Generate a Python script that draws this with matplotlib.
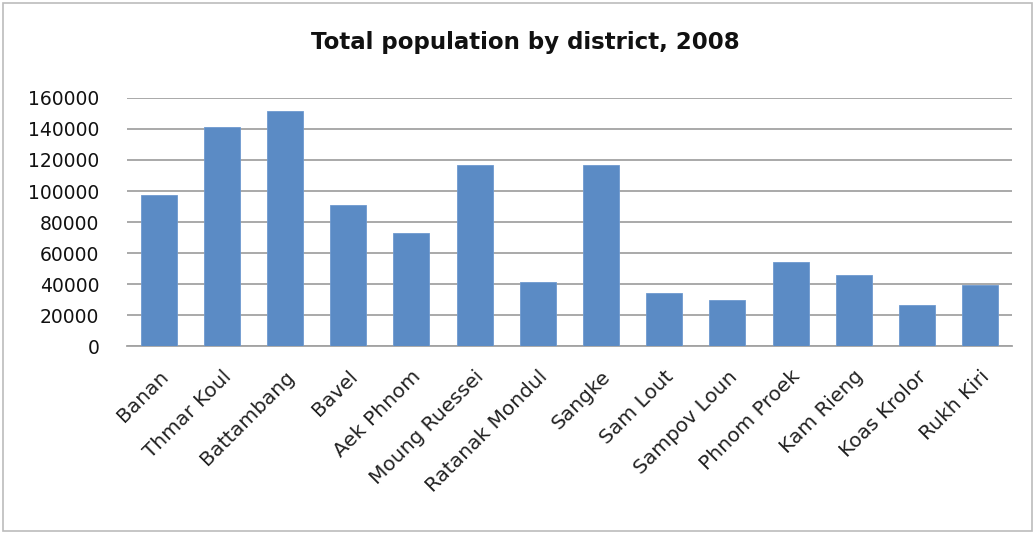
import matplotlib.pyplot as plt
from matplotlib.patches import Rectangle
import numpy as np

districts = ["Banan", "Thmar Koul", "Battambang", "Bavel", "Aek Phnom",
             "Moung Ruessei", "Ratanak Mondul", "Sangke", "Sam Lout",
             "Sampov Loun", "Phnom Proek", "Kam Rieng", "Koas Krolor", "Rukh Kiri"]
population = [97300, 141200, 151800, 90800, 72900,
              116800, 41500, 116800, 34000,
              30000, 54500, 45600, 26200, 39600]
yticks = [0, 20000, 40000, 60000, 80000, 100000, 120000, 140000, 160000]

plt.rcParams["font.family"] = ["DejaVu Sans"]

fig = plt.figure(figsize=(10.36, 5.34), dpi=100)
fig.patch.set_facecolor("white")
# light border round the whole chart, like the Excel chart area
fig.patches.append(Rectangle((0.003, 0.005), 0.993, 0.99, transform=fig.transFigure,
                             fill=False, edgecolor="#bcbcbc", linewidth=1.2))

ax = fig.add_axes([0.1226, 0.352, 0.854, 0.4645])
x = np.arange(len(districts))
ax.bar(x, population, width=0.57, color="#5b8bc5", edgecolor="#6e9ad0",
       linewidth=0.6, zorder=3)

ax.set_ylim(0, 160000)
ax.set_xlim(-0.5, len(districts) - 0.5)
ax.set_yticks(yticks)
ax.set_yticklabels([str(v) for v in yticks], fontsize=13.5, color="#111111")
ax.yaxis.grid(True, color="#a3a3a3", linewidth=1.3, zorder=0)
ax.tick_params(axis="y", length=0, pad=20)
ax.tick_params(axis="x", length=0, pad=15)
ax.set_xticks(x)
ax.set_xticklabels(districts, rotation=45, ha="right", rotation_mode="anchor",
                   fontsize=14.5, color="#222222")

for side in ["top", "right", "left"]:
    ax.spines[side].set_visible(False)
ax.spines["bottom"].set_color("#a3a3a3")
ax.spines["bottom"].set_linewidth(1.3)

fig.text(0.507, 0.921, "Total population by district, 2008", ha="center", va="center",
         fontsize=16.5, fontweight="bold", color="#111111")

plt.savefig("out.png", dpi=100)
